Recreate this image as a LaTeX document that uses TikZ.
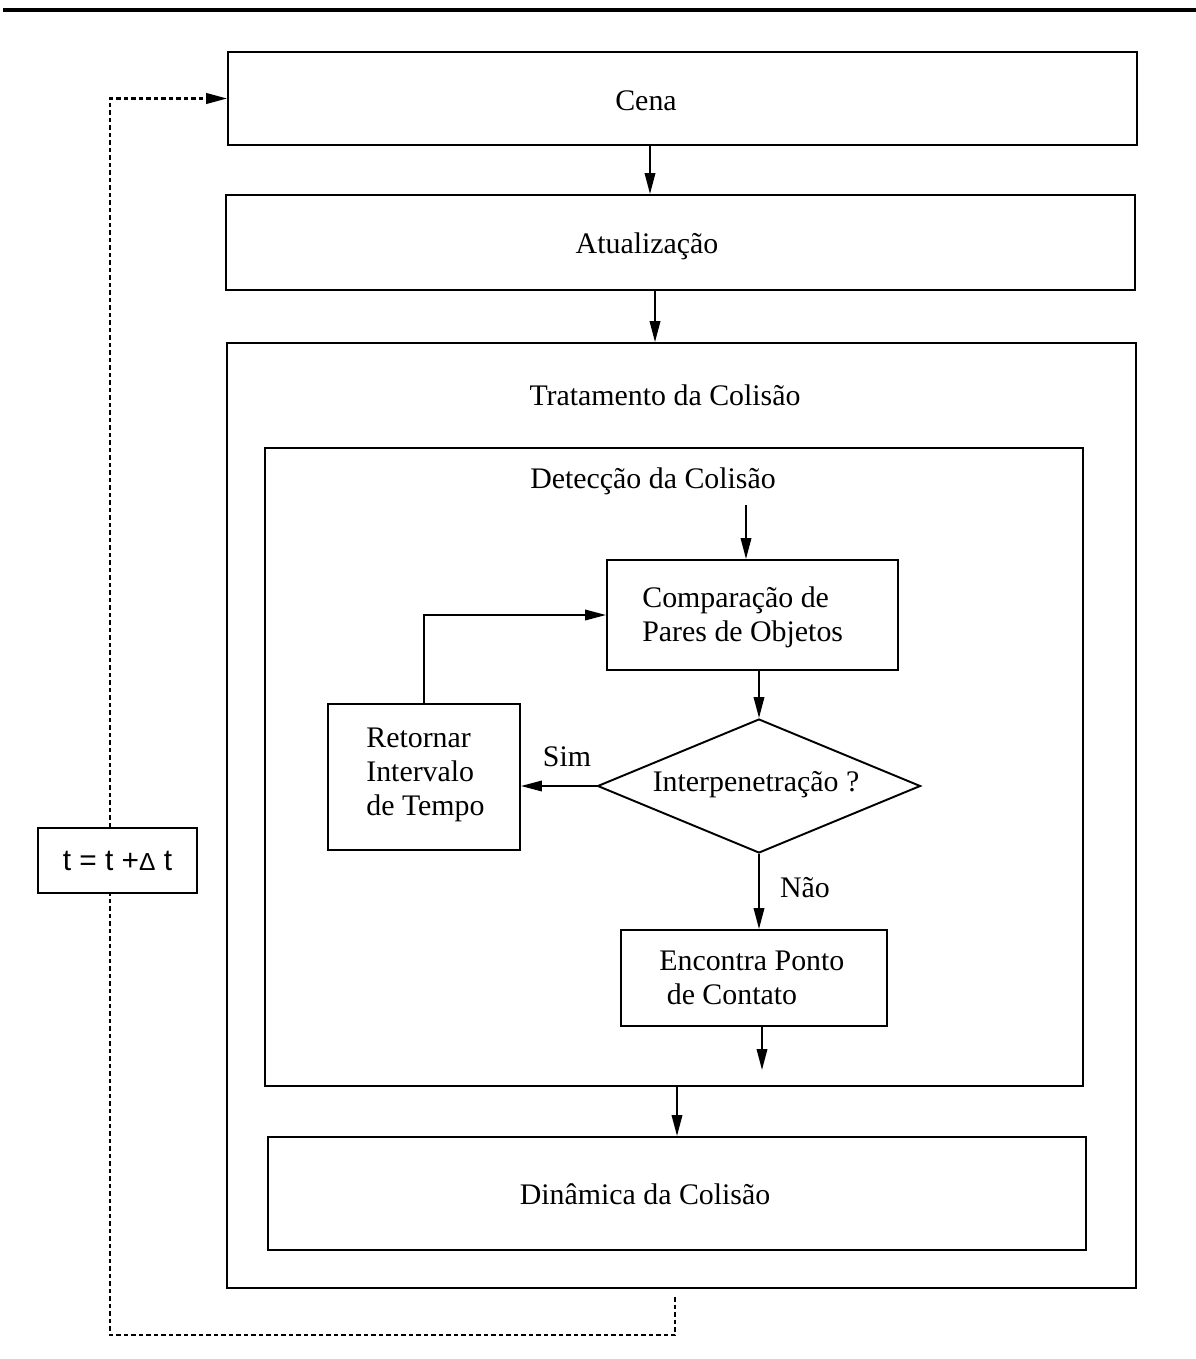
\documentclass[tikz,border=0pt]{standalone}
\usepackage{fontspec}
\setmainfont{Liberation Serif}
\newfontfamily\sansf{Liberation Sans}
\usetikzlibrary{arrows.meta,shapes.geometric}

\tikzset{
  box/.style={draw, line width=1.1pt, rectangle, inner sep=0pt},
  txt/.style={inner sep=0pt},
  lefttxt/.style={inner sep=0pt, anchor=west, align=left},
  flow/.style={line width=1.1pt, -{Triangle[length=0.42cm,width=0.21cm]}},
  loop/.style={line width=1.4pt, dash pattern=on 0.09cm off 0.06cm},
}

\begin{document}
\begin{tikzpicture}[x=0.02cm, y=-0.02cm, font=\fontsize{17}{19.5}\selectfont]
\useasboundingbox (0,0) rectangle (1196,1359);

% heading rule
\draw[line width=2.3pt] (3,10) -- (1196,10);

% main stages
\node[box, minimum width=18.18cm, minimum height=1.86cm] (cena) at (682.5,98.5) {};
\node[txt] (cenatxt) at (646,101) {Cena};

\node[box, minimum width=18.18cm, minimum height=1.9cm] (atual) at (680.5,242.5) {};
\node[txt] (atualtxt) at (647,246) {Atualização};

\node[box, minimum width=18.18cm, minimum height=18.9cm] (trat) at (681.5,815.5) {};
\node[txt] (tratlbl) at (665,395) {Tratamento da Colisão};

% collision detection
\node[box, minimum width=16.36cm, minimum height=12.76cm] (det) at (674,767) {};
\node[txt] (detlbl) at (653,481) {Detecção da Colisão};

\node[box, minimum width=5.82cm, minimum height=2.2cm] (comp) at (752.5,615) {};
\node[lefttxt] (comptxt) at (642,617) {Comparação de\\Pares de Objetos};

\node[draw, line width=1.1pt, diamond, aspect=2.43, inner sep=0pt,
      minimum width=6.46cm, minimum height=2.68cm] (dia) at (759,786) {};
\node[txt] (diatxt) at (756,785) {Interpenetração ?};

\node[box, minimum width=3.84cm, minimum height=2.92cm] (ret) at (424,777) {};
\node[lefttxt] (rettxt) at (366,775) {Retornar\\Intervalo\\de Tempo};

\node[box, minimum width=5.32cm, minimum height=1.92cm] (enc) at (754,978) {};
\node[lefttxt] (enctxt) at (659,978) {Encontra Ponto\\\hspace*{0.25em}de Contato};

\node[txt] (sim) at (567,757) {Sim};
\node[txt] (nao) at (805,888) {Não};

% collision dynamics
\node[box, minimum width=16.36cm, minimum height=2.26cm] (dyn) at (677,1193.5) {};
\node[txt] (dyntxt) at (645,1194) {Dinâmica da Colisão};

% time step
\node[box, fill=white, minimum width=3.18cm, minimum height=1.3cm] (tbox) at (117.5,860.5)
  {\sansf t = t +{\fontsize{14}{14}\selectfont Δ} t};

% connector helpers
\coordinate (x1) at (650,0);
\coordinate (x2) at (655,0);
\coordinate (detin) at (746,505);
\coordinate (encout) at (762,1070);
\coordinate (loopstart) at (675,1297);
\coordinate (loopcorner) at (110,1335);

% flow
\draw[flow] (x1 |- cena.south) -- (x1 |- atual.north);
\draw[flow] (x2 |- atual.south) -- (x2 |- trat.north);
\draw[flow] (detin) -- (detin |- comp.north);
\draw[flow] (dia.north |- comp.south) -- (dia.north);
\draw[flow] (dia.west) -- (dia.west -| ret.east);
\draw[flow] (ret.north) |- (comp.west);
\draw[flow] (dia.south) -- (dia.south |- enc.north);
\draw[flow] (encout |- enc.south) -- (encout);
\draw[flow] (dyn.north |- det.south) -- (dyn.north);

% time loop
\draw[loop] (loopstart) |- (loopcorner) -- (loopcorner |- tbox.south);
\draw[loop, -{Triangle[length=0.42cm,width=0.21cm]}] (loopcorner |- tbox.north) |- (cena.west);
\end{tikzpicture}
\end{document}
